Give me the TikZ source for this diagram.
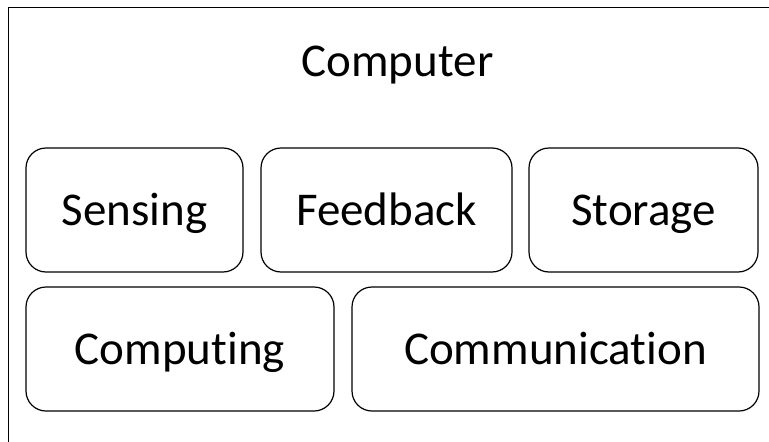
\documentclass[tikz,border=0pt]{standalone}
\usepackage{fontspec}
\setmainfont{Carlito}[Ligatures=NoCommon, RawFeature=-liga]
\usetikzlibrary{positioning}

\begin{document}
\begin{tikzpicture}[
    x=1pt, y=-1pt,
    every node/.style={font=\fontsize{47}{56}\selectfont, align=center},
    unit/.style={rectangle, draw=black, line width=1.2pt, rounded corners=20pt, inner sep=0pt, text height=30pt, text depth=0pt, minimum height=124pt}
]
\useasboundingbox (0,0) rectangle (769,442);

% Outer frame (runs off the page on the right and bottom)
\begin{scope}
\clip (0,0) rectangle (769,442);
\draw[line width=1pt] (8,7) rectangle (800,480);
\end{scope}
\node[anchor=base] (title) at (397.5,76) {Computer};

% Top row
\node[unit, minimum width=217pt] (sense) at (134.5,210) {Sensing};
\node[unit, minimum width=251pt] (feedback) at (386.5,210) {Feedback};
\node[unit, minimum width=229pt] (storage) at (643.5,210) {Storage};

% Bottom row
\node[unit, minimum width=308pt] (compute) at (180,349) {Computing};
\node[unit, minimum width=407pt] (comm) at (555.5,349) {Communication};
\end{tikzpicture}
\end{document}
